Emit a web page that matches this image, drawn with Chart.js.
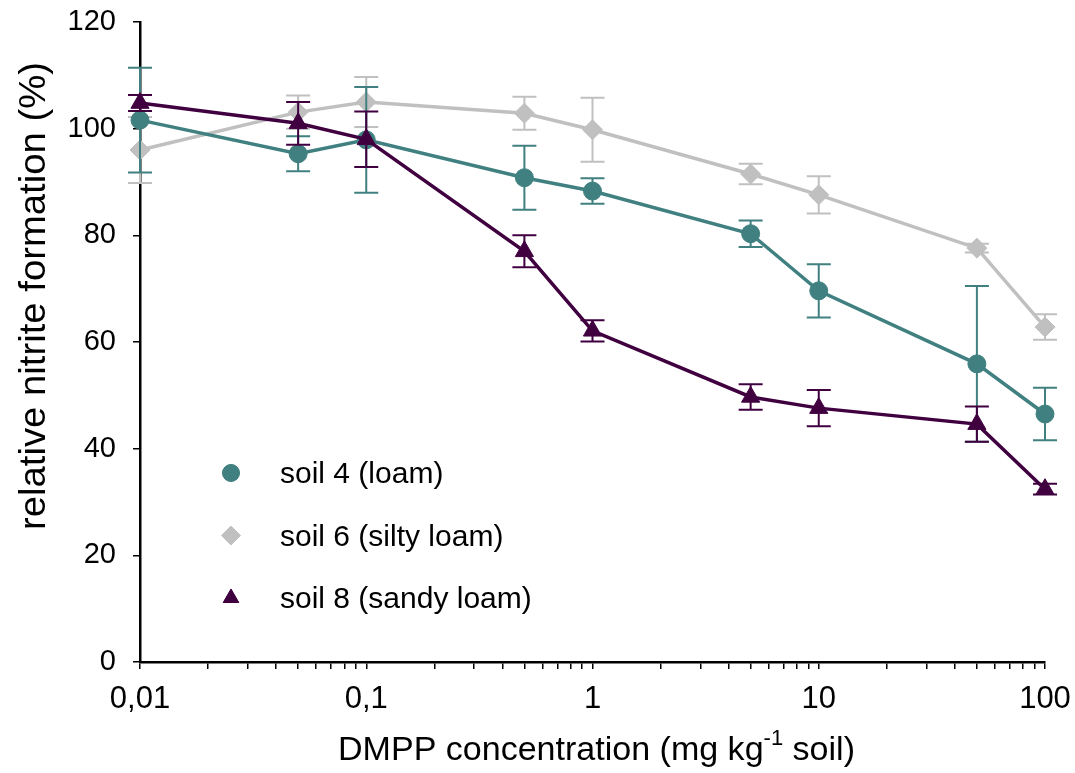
<!DOCTYPE html>
<html>
<head>
<meta charset="utf-8">
<script src="https://cdn.jsdelivr.net/npm/chart.js@4"></script>
<style>
  body { margin: 0; background: #fff; }
  #content-chart { width: 1075px; height: 773px; }
</style>
</head>
<body>
<div id="content-chart"><canvas id="myChart"></canvas></div>
<script>
// DMPP dose (mg/kg soil) and relative nitrite formation (%) with error bars
const doses = [0.01, 0.05, 0.1, 0.5, 1, 5, 10, 50, 100];
const soil4 = [101.6, 95.3, 97.9, 90.8, 88.3, 80.3, 69.6, 55.9, 46.5];
const soil4Err = [9.8, 3.3, 9.9, 6.0, 2.4, 2.5, 5.0, 14.6, 4.9];
const soil6 = [96.0, 103.1, 105.0, 102.9, 99.8, 91.5, 87.6, 77.6, 62.8];
const soil6Err = [6.2, 3.1, 4.7, 3.1, 6.0, 1.9, 3.5, 0.8, 2.4];
const soil8 = [104.8, 101.0, 98.0, 77.0, 62.1, 49.7, 47.6, 44.6, 32.4];
const soil8Err = [1.5, 4.0, 5.2, 3.0, 2.0, 2.4, 3.4, 3.3, 1.0];
const seriesNames = ["soil 4 (loam)", "soil 6 (silty loam)", "soil 8 (sandy loam)"];
const xDecades = [0.01, 0.1, 1, 10, 100];
const yTicks = [0, 20, 40, 60, 80, 100, 120];
const yTitle = "relative nitrite formation (%)";
const xTitleParts = ["DMPP concentration (mg kg", "-1", " soil)"];

const FONT = "'Liberation Sans', Arial, Helvetica, sans-serif";
const colors = ["#418080", "#c0c0c0", "#400040"];
const shapes = ["circle", "rectRot", "triangle"];
const sizes = [9, 10, 10.5];

Chart.defaults.font.family = FONT;
Chart.defaults.color = "#000";

const toPoints = (values) => doses.map((d, i) => ({ x: d, y: values[i] }));

const makeSet = (i, values, errors, order) => ({
  label: seriesNames[i],
  data: toPoints(values),
  errorBars: errors,
  order: order,
  clip: false,
  borderColor: colors[i],
  backgroundColor: colors[i],
  pointBackgroundColor: colors[i],
  pointBorderColor: colors[i],
  pointBorderWidth: 1,
  pointStyle: shapes[i],
  pointRadius: sizes[i],
  borderWidth: 3.5,
  tension: 0,
});

// minor ticks 1..9 inside each decade
const logTicks = [];
for (let i = 0; i < xDecades.length - 1; i++) {
  for (let k = 1; k < 10; k++) logTicks.push(k * xDecades[i]);
}
logTicks.push(xDecades[xDecades.length - 1]);

const errorBars = {
  id: "errorBars",
  beforeDatasetDraw(chart, args) {
    const ds = chart.data.datasets[args.index];
    const yScale = chart.scales.y;
    const ctx = chart.ctx;
    ctx.save();
    ctx.strokeStyle = ds.borderColor;
    ctx.lineWidth = 2;
    args.meta.data.forEach((pt, j) => {
      const v = ds.data[j].y;
      const e = ds.errorBars[j];
      const top = yScale.getPixelForValue(v + e);
      const bot = yScale.getPixelForValue(v - e);
      ctx.beginPath();
      ctx.moveTo(pt.x, top);
      ctx.lineTo(pt.x, bot);
      ctx.moveTo(pt.x - 12, top);
      ctx.lineTo(pt.x + 12, top);
      ctx.moveTo(pt.x - 12, bot);
      ctx.lineTo(pt.x + 12, bot);
      ctx.stroke();
    });
    ctx.restore();
  },
};

const fitText = (ctx, text, x, y, width) => {
  const w = ctx.measureText(text).width;
  ctx.save();
  ctx.translate(x, y);
  ctx.scale(width / w, 1);
  ctx.fillText(text, -w / 2, 0);
  ctx.restore();
};

const extras = {
  id: "extras",
  afterDraw(chart) {
    const ctx = chart.ctx;
    ctx.save();
    ctx.fillStyle = "#000";
    ctx.textBaseline = "alphabetic";

    // y axis title
    ctx.font = `37px ${FONT}`;
    ctx.save();
    ctx.translate(45, 296);
    ctx.rotate(-Math.PI / 2);
    fitText(ctx, yTitle, 0, 0, 468);
    ctx.restore();

    // x axis title with superscript
    ctx.font = `34px ${FONT}`;
    const w1 = ctx.measureText(xTitleParts[0]).width;
    const w3 = ctx.measureText(xTitleParts[2]).width;
    ctx.font = `22px ${FONT}`;
    const w2 = ctx.measureText(xTitleParts[1]).width;
    const total = w1 + w2 + w3;
    const sx = 517 / total;
    ctx.save();
    ctx.translate(338, 760);
    ctx.scale(sx, 1);
    ctx.font = `34px ${FONT}`;
    ctx.fillText(xTitleParts[0], 0, 0);
    ctx.font = `22px ${FONT}`;
    ctx.fillText(xTitleParts[1], w1, -15);
    ctx.font = `34px ${FONT}`;
    ctx.fillText(xTitleParts[2], w1 + w2, 0);
    ctx.restore();

    // legend
    ctx.font = `30px ${FONT}`;
    ctx.textBaseline = "middle";
    seriesNames.forEach((name, i) => {
      const y = 473 + i * 62.5;
      ctx.fillStyle = colors[i];
      ctx.strokeStyle = colors[i];
      Chart.helpers.drawPoint(ctx, { pointStyle: shapes[i], radius: i === 2 ? 9 : sizes[i] - 0.5, borderWidth: 1 }, 231, y);
      ctx.fill();
      ctx.fillStyle = "#000";
      ctx.fillText(name, 280, y + 2);
    });
    ctx.restore();
  },
};

const ctx = document.getElementById("myChart");
new Chart(ctx, {
  type: "line",
  data: {
    datasets: [
      makeSet(0, soil4, soil4Err, 1),
      makeSet(1, soil6, soil6Err, 2),
      makeSet(2, soil8, soil8Err, 0),
    ],
  },
  plugins: [errorBars, extras],
  options: {
    responsive: true,
    maintainAspectRatio: false,
    animation: false,
    devicePixelRatio: 1,
    layout: { padding: { top: 22, right: 30, bottom: 0, left: 0 } },
    plugins: {
      legend: { display: false },
      tooltip: { enabled: false },
    },
    scales: {
      x: {
        type: "logarithmic",
        min: 0.01,
        max: 100,
        afterBuildTicks: (scale) => {
          scale.ticks = logTicks.map((v) => ({ value: v }));
        },
        afterFit: (scale) => {
          scale.height = 111;
          scale.paddingLeft = 0;
          scale.paddingRight = 0;
        },
        ticks: {
          autoSkip: false,
          maxRotation: 0,
          padding: 12,
          font: { size: 31 },
          color: "#000",
          callback: (v) => (xDecades.includes(v) ? String(v).replace(".", ",") : ""),
        },
        grid: {
          drawOnChartArea: false,
          drawTicks: true,
          tickLength: 7,
          color: "#000",
          lineWidth: 1.5,
        },
        border: { color: "#000", width: 2.5 },
      },
      y: {
        min: 0,
        max: 120,
        afterBuildTicks: (scale) => {
          scale.ticks = yTicks.map((v) => ({ value: v }));
        },
        afterFit: (scale) => {
          scale.width = 140;
          scale.paddingTop = 0;
          scale.paddingBottom = 0;
        },
        ticks: {
          padding: 17,
          font: { size: 29 },
          color: "#000",
        },
        grid: {
          drawOnChartArea: false,
          drawTicks: true,
          tickLength: 7,
          color: "#000",
          lineWidth: 1.5,
        },
        border: { color: "#000", width: 2.5 },
      },
    },
  },
});
</script>
</body>
</html>
